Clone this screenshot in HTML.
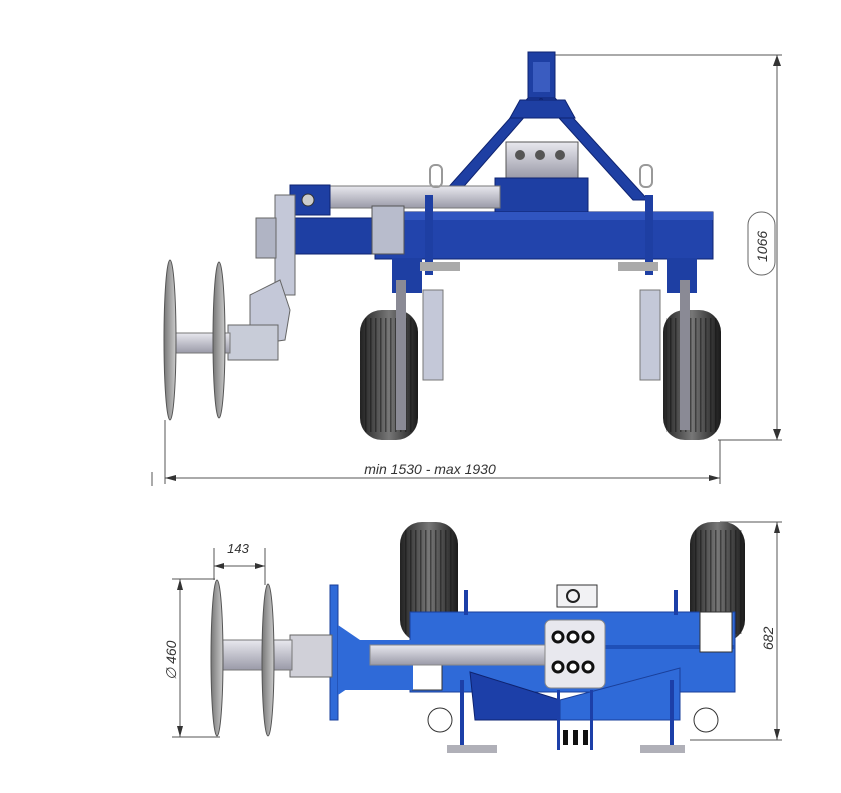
<!DOCTYPE html>
<html><head><meta charset="utf-8"><style>
html,body{margin:0;padding:0;background:#fff;}
svg{display:block;}
text{font-family:"Liberation Sans",sans-serif;font-style:italic;fill:#333;}
</style></head><body>
<svg width="841" height="793" viewBox="0 0 841 793" xmlns="http://www.w3.org/2000/svg">
<defs>
<linearGradient id="tire" x1="0" x2="1"><stop offset="0" stop-color="#222"/><stop offset="0.5" stop-color="#777"/><stop offset="1" stop-color="#1a1a1a"/></linearGradient>
<pattern id="ribs" width="5" height="10" patternUnits="userSpaceOnUse"><rect width="1.5" height="10" fill="#111" opacity="0.5"/></pattern>
<linearGradient id="grey" x1="0" y1="0" x2="0" y2="1"><stop offset="0" stop-color="#e8e8ee"/><stop offset="1" stop-color="#9a9aa8"/></linearGradient>
<linearGradient id="disk" x1="0" x2="1"><stop offset="0" stop-color="#777"/><stop offset="1" stop-color="#ccc"/></linearGradient>
</defs>

<!-- ===== TOP VIEW ===== -->
<g stroke="#555" stroke-width="1" fill="none">
<line x1="555" y1="55" x2="782" y2="55"/>
<line x1="777" y1="55" x2="777" y2="440"/>
<line x1="718" y1="440" x2="782" y2="440"/>
<line x1="165" y1="420" x2="165" y2="484"/>
<line x1="720" y1="440" x2="720" y2="484"/>
<line x1="165" y1="478" x2="720" y2="478"/>
<line x1="152" y1="472" x2="152" y2="486"/>
</g>
<polygon points="777,55 773,66 781,66" fill="#333"/>
<polygon points="777,440 773,429 781,429" fill="#333"/>
<polygon points="165,478 176,475 176,481" fill="#333"/>
<polygon points="720,478 709,475 709,481" fill="#333"/>
<rect x="748" y="212" width="27" height="63" rx="13" fill="#fff" stroke="#666"/>
<text x="0" y="0" font-size="14" transform="translate(767,262) rotate(-90)">1066</text>
<text x="430" y="474" font-size="14" text-anchor="middle">min 1530 - max 1930</text>

<rect x="528" y="52" width="27" height="50" fill="#1e3fa3" stroke="#0e2370"/>
<rect x="533" y="62" width="17" height="30" fill="#3a5cc0"/>
<polygon points="528,98 541,98 452,200 437,200" fill="#1e3fa3" stroke="#0e2370"/>
<polygon points="541,98 555,98 648,200 633,200" fill="#1e3fa3" stroke="#0e2370"/>
<polygon points="520,100 565,100 575,118 510,118" fill="#1e3fa3" stroke="#0e2370"/>
<rect x="506" y="142" width="72" height="36" fill="url(#grey)" stroke="#555"/>
<g fill="#555"><circle cx="520" cy="155" r="5"/><circle cx="540" cy="155" r="5"/><circle cx="560" cy="155" r="5"/></g>
<rect x="495" y="178" width="93" height="35" fill="#1e3fa3" stroke="#0e2370"/>
<rect x="330" y="186" width="170" height="22" fill="url(#grey)" stroke="#777"/>
<rect x="290" y="185" width="40" height="30" fill="#1e3fa3" stroke="#0e2370"/>
<circle cx="308" cy="200" r="6" fill="#ccc" stroke="#333"/>
<rect x="290" y="218" width="90" height="36" fill="#1e3fa3" stroke="#0e2370"/>
<rect x="375" y="212" width="338" height="47" fill="#2244ac" stroke="#0e2370"/>
<rect x="375" y="212" width="338" height="8" fill="#3055c0"/>
<rect x="372" y="206" width="32" height="48" fill="#b8bccc" stroke="#555"/>
<rect x="430" y="165" width="12" height="22" rx="5" fill="none" stroke="#999" stroke-width="2"/>
<rect x="640" y="165" width="12" height="22" rx="5" fill="none" stroke="#999" stroke-width="2"/>
<rect x="425" y="195" width="8" height="80" fill="#1e3fa3"/>
<rect x="645" y="195" width="8" height="80" fill="#1e3fa3"/>
<rect x="392" y="258" width="30" height="35" fill="#1e3fa3"/>
<rect x="667" y="258" width="30" height="35" fill="#1e3fa3"/>
<rect x="420" y="262" width="40" height="9" fill="#aaa"/>
<rect x="618" y="262" width="40" height="9" fill="#aaa"/>
<rect x="423" y="290" width="20" height="90" fill="#c4c8d8" stroke="#777"/>
<rect x="640" y="290" width="20" height="90" fill="#c4c8d8" stroke="#777"/>
<rect x="360" y="310" width="58" height="130" rx="22" fill="url(#tire)"/>
<rect x="363" y="318" width="52" height="114" fill="url(#ribs)"/>
<rect x="663" y="310" width="58" height="130" rx="22" fill="url(#tire)"/>
<rect x="666" y="318" width="52" height="114" fill="url(#ribs)"/>
<rect x="396" y="280" width="10" height="150" fill="#8a8a95"/>
<rect x="680" y="280" width="10" height="150" fill="#8a8a95"/>
<rect x="275" y="195" width="20" height="100" fill="#c4c8d8" stroke="#666"/>
<rect x="256" y="218" width="20" height="40" fill="#b0b4c4" stroke="#666"/>
<path d="M250 295 L280 280 L290 310 L285 340 L250 345 Z" fill="#c4c8d8" stroke="#666"/>
<rect x="228" y="325" width="50" height="35" fill="#c8ccd8" stroke="#666"/>
<rect x="175" y="333" width="55" height="20" fill="url(#grey)" stroke="#777"/>
<ellipse cx="170" cy="340" rx="6" ry="80" fill="url(#disk)" stroke="#555"/>
<ellipse cx="219" cy="340" rx="6" ry="78" fill="url(#disk)" stroke="#555"/>

<!-- ===== BOTTOM VIEW ===== -->
<g stroke="#555" stroke-width="1" fill="none">
<line x1="214" y1="548" x2="214" y2="580"/>
<line x1="265" y1="548" x2="265" y2="585"/>
<line x1="214" y1="566" x2="265" y2="566"/>
<line x1="172" y1="579" x2="215" y2="579"/>
<line x1="172" y1="737" x2="220" y2="737"/>
<line x1="180" y1="579" x2="180" y2="737"/>
<line x1="720" y1="522" x2="782" y2="522"/>
<line x1="690" y1="740" x2="782" y2="740"/>
<line x1="777" y1="522" x2="777" y2="740"/>
</g>
<polygon points="214,566 224,563 224,569" fill="#333"/>
<polygon points="265,566 255,563 255,569" fill="#333"/>
<polygon points="180,579 177,590 183,590" fill="#333"/>
<polygon points="180,737 177,726 183,726" fill="#333"/>
<polygon points="777,522 774,533 780,533" fill="#333"/>
<polygon points="777,740 774,729 780,729" fill="#333"/>
<text x="238" y="553" font-size="13" text-anchor="middle">143</text>
<text font-size="14" transform="translate(176,680) rotate(-90)">∅ 460</text>
<text font-size="14" transform="translate(773,650) rotate(-90)">682</text>

<rect x="400" y="522" width="58" height="120" rx="22" fill="url(#tire)"/>
<rect x="403" y="530" width="52" height="104" fill="url(#ribs)"/>
<rect x="690" y="522" width="55" height="120" rx="22" fill="url(#tire)"/>
<rect x="693" y="530" width="49" height="104" fill="url(#ribs)"/>
<rect x="410" y="612" width="325" height="80" fill="#2f6ad8" stroke="#1a3f9a"/>
<rect x="410" y="645" width="325" height="4" fill="#1f50b8"/>
<rect x="700" y="612" width="32" height="40" fill="#fff" stroke="#333"/>
<rect x="412" y="665" width="30" height="25" fill="#fff" stroke="#333"/>
<rect x="338" y="640" width="75" height="50" fill="#2f6ad8"/>
<path d="M470 672 L560 700 L560 720 L475 720 Z" fill="#1c3fa8" stroke="#0e2370"/>
<path d="M560 700 L680 668 L680 720 L560 720 Z" fill="#2f6ad8" stroke="#1a3f9a"/>
<rect x="370" y="645" width="185" height="20" fill="url(#grey)" stroke="#888"/>
<rect x="557" y="585" width="40" height="22" fill="#f2f2f4" stroke="#333"/>
<circle cx="573" cy="596" r="6" fill="none" stroke="#222" stroke-width="2"/>
<rect x="545" y="620" width="60" height="68" rx="6" fill="#e8e8ee" stroke="#888"/>
<g fill="#fff" stroke="#111" stroke-width="3">
<circle cx="558" cy="637" r="5"/><circle cx="573" cy="637" r="5"/><circle cx="588" cy="637" r="5"/>
<circle cx="558" cy="667" r="5"/><circle cx="573" cy="667" r="5"/><circle cx="588" cy="667" r="5"/>
</g>
<rect x="563" y="730" width="5" height="15" fill="#111"/><rect x="573" y="730" width="5" height="15" fill="#111"/><rect x="583" y="730" width="5" height="15" fill="#111"/>
<rect x="557" y="690" width="3" height="60" fill="#1c3fa8"/><rect x="590" y="690" width="3" height="60" fill="#1c3fa8"/>
<rect x="460" y="680" width="4" height="70" fill="#1c3fa8"/><rect x="670" y="680" width="4" height="70" fill="#1c3fa8"/>
<rect x="447" y="745" width="50" height="8" fill="#b0b0b8"/><rect x="640" y="745" width="45" height="8" fill="#b0b0b8"/>
<ellipse cx="440" cy="720" rx="12" ry="12" fill="none" stroke="#333"/>
<ellipse cx="706" cy="720" rx="12" ry="12" fill="none" stroke="#333"/>
<rect x="464" y="590" width="4" height="25" fill="#1c3fa8"/><rect x="674" y="590" width="4" height="25" fill="#1c3fa8"/>
<rect x="330" y="585" width="8" height="135" fill="#2f6ad8" stroke="#1a3f9a"/>
<path d="M338 625 L360 640 L360 680 L338 695 Z" fill="#2f6ad8"/>
<rect x="290" y="635" width="42" height="42" fill="#d0d0d8" stroke="#666"/>
<rect x="222" y="640" width="70" height="30" fill="url(#grey)" stroke="#777"/>
<ellipse cx="217" cy="658" rx="6" ry="78" fill="url(#disk)" stroke="#555"/>
<ellipse cx="268" cy="660" rx="6" ry="76" fill="url(#disk)" stroke="#555"/>
</svg>
</body></html>
